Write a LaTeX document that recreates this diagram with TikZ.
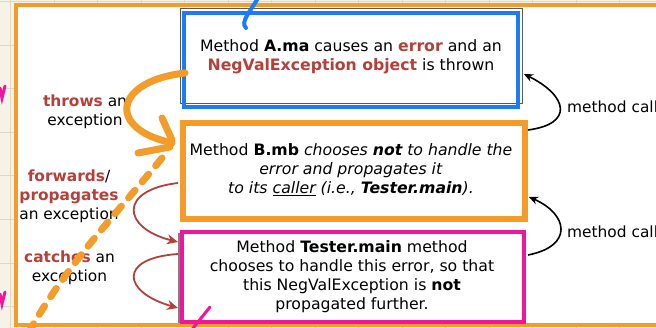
\documentclass[tikz,border=0pt]{standalone}
\usepackage{fontspec}
\setmainfont{DejaVu Sans}
\usetikzlibrary{arrows.meta,calc}
\definecolor{exred}{HTML}{B5403A}
\definecolor{frameorange}{HTML}{F49C2A}
\definecolor{boxblue}{HTML}{1A7CF7}
\definecolor{boxpink}{HTML}{F0169C}
\definecolor{paper}{HTML}{F6F3E6}
\definecolor{gridline}{HTML}{DAD8CE}
\tikzset{
  txt/.style={font=\fontsize{15.7}{19}\selectfont, align=center, inner sep=0pt},
  lbl/.style={font=\fontsize{15.4}{19}\selectfont, align=center, inner sep=0pt},
  boxnode/.style={rectangle, minimum width=#1, inner sep=0pt, fill=white},
  callarrow/.style={-{Stealth[length=9pt,width=8pt]}, line width=1.6pt, black},
  redarrow/.style={-{Stealth[length=11pt,width=10pt]}, line width=1.8pt, exred},
  ink/.style={line width=7pt, line cap=round, line join=round, frameorange},
}
\begin{document}
\begin{tikzpicture}[x=1pt,y=-1pt]
\useasboundingbox (0,0) rectangle (656,328);
\clip (0,0) rectangle (656,328);
% paper and grid
\fill[paper] (0,0) rectangle (656,328);
\foreach \gx in {10.8,54.3,...,660} \draw[gridline, line width=0.8pt] (\gx,0) -- (\gx,328);
\foreach \gy in {1.5,45.1,...,330} \draw[gridline, line width=0.8pt] (0,\gy) -- (656,\gy);
% main frame
\fill[white] (16,5) rectangle (680,325);
\draw[frameorange, line width=4pt] (16,5) rectangle (680,325);

% box A
\draw[gray!70!black, line width=1pt, fill=white] (180,9) rectangle (522,104);
\node[boxnode=334pt, minimum height=94pt, draw=boxblue, line width=4pt, fill=none] (A) at (351,60) {};
\node[txt] (Atext) at (351,57) {Method \textbf{A.ma} causes an \textcolor{exred}{\textbf{error}} and an\\\textcolor{exred}{\textbf{NegValException object}} is thrown};

% box B
\draw[gray, line width=2pt] (184,217) -- (522,217);
\node[boxnode=342pt, minimum height=96pt, draw=frameorange, line width=6pt, fill=none] (B) at (354,171) {};
\node[txt] (Btext) at (351,170) {Method \textbf{B.mb} \textit{chooses \textbf{not} to handle the}\\\textit{error and propagates it}\\\textit{to its \underline{caller} (i.e., \textbf{Tester.main}).}};

% box C
\draw[gray, line width=1.5pt] (179,233) -- (179,323);
\node[boxnode=342pt, minimum height=90pt, draw=boxpink, line width=4pt, fill=none] (C) at (353,277) {};
\node[txt] (Ctext) at (352,277) {Method \textbf{Tester.main} method\\chooses to handle this error, so that\\this NegValException is \textbf{not}\\propagated further.};

% left labels
\node[lbl] (throws) at (85,112) {\textcolor{exred}{\textbf{throws}} an\\exception};
\node[lbl] (fwd) at (69,196) {\textcolor{exred}{\textbf{forwards}}/\\\textcolor{exred}{\textbf{propagates}}\\an exception};
\node[lbl] (catches) at (69.5,267.5) {\textcolor{exred}{\textbf{catches}} an\\exception};

% method call labels
\node[lbl, anchor=west] (mc1) at (567,107) {method call};
\node[lbl, anchor=west] (mc2) at (567,232) {method call};

% method call arrows
\coordinate (b1) at (528,130);
\coordinate (a1) at (524,74);
\draw[callarrow] (b1) .. controls (574,124) and (568,96) .. (a1);
\coordinate (c1) at (528,255);
\coordinate (b2) at (529,197);
\draw[callarrow] (c1) .. controls (574,246) and (568,214) .. (b2);

% red arrows
\coordinate (r1s) at (178,183);
\coordinate (r1e) at (178,242);
\draw[redarrow] (r1s) .. controls (118,190) and (122,228) .. (r1e);
\coordinate (r2s) at (178,254);
\coordinate (r2e) at (178,308);
\draw[redarrow] (r2s) .. controls (118,258) and (122,292) .. (r2e);

% hand annotations
\draw[ink] (185,73) .. controls (140,78) and (118,100) .. (130,120) .. controls (140,135) and (160,140) .. (172,143);
\draw[ink] (162,118) -- (172,140);
\draw[ink] (138,153) -- (170,147);
\draw[ink, dash pattern=on 10pt off 11pt] (162,158) .. controls (120,210) and (70,260) .. (30,330);
\draw[boxblue, line width=4pt, line cap=round] (258,-2) .. controls (250,12) and (240,22) .. (246,28);
\draw[boxpink, line width=3pt, line cap=round] (0,88) -- (2,98) -- (5,86);
\draw[boxpink, line width=3pt, line cap=round] (0,294) -- (2,304) -- (5,292);
\draw[boxpink, line width=3pt, line cap=round] (210,307) -- (190,332);
\end{tikzpicture}
\end{document}
